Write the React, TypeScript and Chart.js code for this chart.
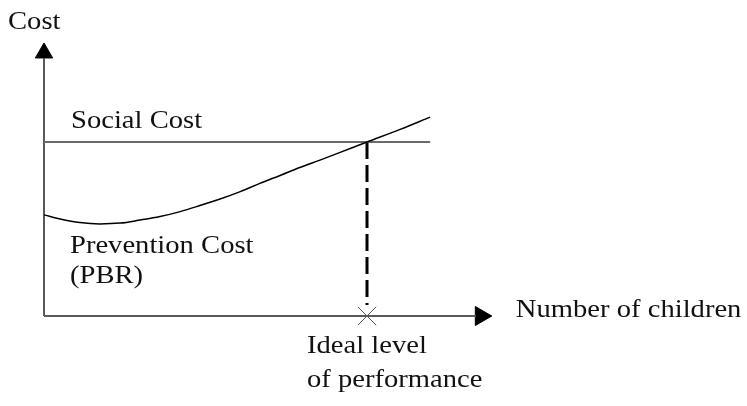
import React, { useEffect, useRef } from "react";
import { Chart, registerables } from "chart.js";

Chart.register(...registerables);

// Number of children (schematic units, 0..100)
const children = [0, 3.6, 8.0, 12.5, 17.0, 21.4, 25.9, 30.4, 34.8, 39.3, 43.8, 48.2, 52.7, 57.1, 61.6, 66.1, 72.1, 79.5, 86.2];
// Prevention cost (PBR) curve
const preventionCost = [36.9, 35.4, 34.1, 33.6, 33.9, 35.0, 36.3, 38.1, 40.3, 42.7, 45.4, 48.4, 51.3, 54.2, 56.9, 59.7, 63.5, 68.1, 72.6];
// Social cost (flat)
const socialCostValue = 63.5;
const socialCostRange = [0, 86.2];
// Ideal level of performance (intersection)
const idealLevel = 72.1;
const dashedTop = 63.5;
const dashedBottom = 4;
// Axes extents
const yAxisTop = 94.2;
const xAxisRight = 96.4;
const yArrowAt = 96;
const xArrowAt = 97.5;

const labels = {
  yTitle: "Cost",
  social: "Social Cost",
  prevention: ["Prevention Cost", "(PBR)"],
  xTitle: "Number of children",
  ideal: ["Ideal level", "of performance"],
};

const AXIS_COLOR = "#585858";
const TEXT_COLOR = "#111111";
const FONT = "26px 'Liberation Serif', 'Times New Roman', serif";
const SX = 1.1;

const textPlugin = {
  id: "schematicText",
  afterDatasetsDraw(chart: any) {
    const ctx = chart.ctx as CanvasRenderingContext2D;
    const xs = chart.scales.x;
    const ys = chart.scales.y;
    const draw = (t: string, x: number, y: number) => {
      ctx.save();
      ctx.translate(x, y);
      ctx.scale(SX, 1);
      ctx.fillText(t, 0, 0);
      ctx.restore();
    };
    ctx.save();
    ctx.font = FONT;
    ctx.fillStyle = TEXT_COLOR;
    ctx.textBaseline = "alphabetic";
    ctx.textAlign = "left";
    const x0 = xs.getPixelForValue(0);
    const y0 = ys.getPixelForValue(0);
    draw(labels.yTitle, x0 - 36, 29);
    const ySoc = ys.getPixelForValue(socialCostValue);
    draw(labels.social, x0 + 27, ySoc - 14);
    draw(labels.prevention[0], x0 + 26, 253);
    draw(labels.prevention[1], x0 + 26, 283);
    draw(labels.xTitle, xs.getPixelForValue(xAxisRight) + 40, y0 + 1);
    const xi = xs.getPixelForValue(idealLevel);
    draw(labels.ideal[0], xi - 60, y0 + 37);
    draw(labels.ideal[1], xi - 60, y0 + 71);
    ctx.restore();
  },
};

export default function App() {
  const ref = useRef<HTMLCanvasElement | null>(null);
  useEffect(() => {
    if (!ref.current) return;
    const chart = new Chart(ref.current, {
      type: "line",
      data: {
        datasets: [
          {
            label: "Prevention Cost (PBR)",
            data: children.map((c, i) => ({ x: c, y: preventionCost[i] })),
            borderColor: "#000000",
            borderWidth: 1.5,
            cubicInterpolationMode: "monotone",
            pointRadius: 0,
            clip: false as any,
          },
          {
            label: "Social Cost",
            data: socialCostRange.map((c) => ({ x: c, y: socialCostValue })),
            borderColor: "#6a6a6a",
            borderWidth: 2,
            pointRadius: 0,
            clip: false as any,
          },
          {
            label: "Ideal",
            data: [
              { x: idealLevel, y: dashedTop },
              { x: idealLevel, y: dashedBottom },
            ],
            borderColor: "#000000",
            borderWidth: 3,
            borderDash: [17, 6],
            pointRadius: 0,
            clip: false as any,
          },
          {
            label: "Y axis",
            data: [
              { x: 0, y: 0 },
              { x: 0, y: yAxisTop },
            ],
            borderColor: AXIS_COLOR,
            borderWidth: 2,
            pointRadius: 0,
            clip: false as any,
          },
          {
            label: "X axis",
            data: [
              { x: 0, y: 0 },
              { x: xAxisRight, y: 0 },
            ],
            borderColor: AXIS_COLOR,
            borderWidth: 2,
            pointRadius: 0,
            clip: false as any,
          },
          {
            label: "Y arrow",
            data: [{ x: 0, y: yArrowAt }],
            showLine: false,
            pointStyle: "triangle",
            pointRadius: 10,
            pointRotation: 0,
            backgroundColor: "#000000",
            borderColor: "#000000",
            borderWidth: 1,
            clip: false as any,
          },
          {
            label: "X arrow",
            data: [{ x: xArrowAt, y: 0 }],
            showLine: false,
            pointStyle: "triangle",
            pointRadius: 11,
            pointRotation: 90,
            backgroundColor: "#000000",
            borderColor: "#000000",
            borderWidth: 1,
            clip: false as any,
          },
          {
            label: "Marker",
            data: [{ x: idealLevel, y: 0 }],
            showLine: false,
            pointStyle: "crossRot",
            pointRadius: 13,
            borderColor: "#555555",
            borderWidth: 1,
            clip: false as any,
          },
        ],
      },
      options: {
        responsive: false,
        animation: false,
        events: [],
        layout: { padding: { left: 44, right: 255, top: 42, bottom: 90 } },
        plugins: { legend: { display: false }, tooltip: { enabled: false } },
        scales: {
          x: { type: "linear", min: 0, max: 100, display: false },
          y: { type: "linear", min: 0, max: 100, display: false },
        },
      },
      plugins: [textPlugin],
    });
    return () => chart.destroy();
  }, []);
  return (
    <div style={{ position: "fixed", left: 0, top: 0, width: 747, height: 406, background: "#fff" }}>
      <canvas ref={ref} width={747} height={406} />
    </div>
  );
}
